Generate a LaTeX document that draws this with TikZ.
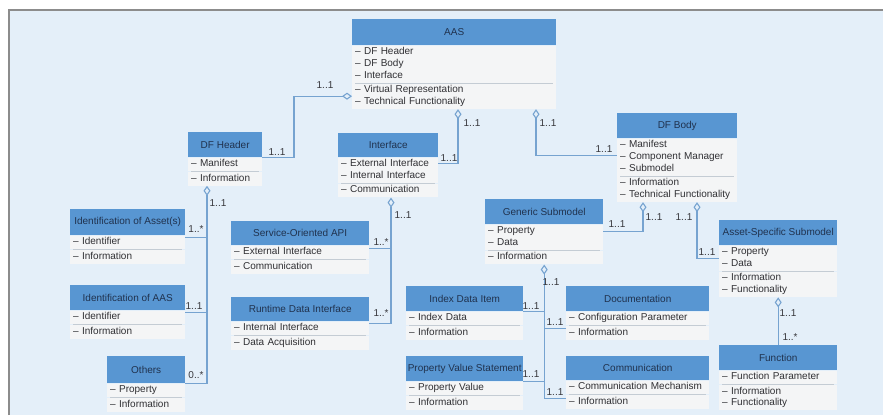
\documentclass[tikz,border=0pt]{standalone}
\usepackage{fontspec}
\setmainfont{Liberation Sans}
\usetikzlibrary{arrows.meta,calc}

\definecolor{panelbg}{RGB}{228,239,249}
\definecolor{panelline}{RGB}{140,140,140}
\definecolor{hdrblue}{RGB}{88,150,210}
\definecolor{hdrtext}{RGB}{32,50,78}
\definecolor{bodyfill}{RGB}{244,245,246}
\definecolor{itemtext}{RGB}{48,48,52}
\definecolor{sepline}{RGB}{196,204,212}
\definecolor{connblue}{RGB}{118,163,208}
\definecolor{multtext}{RGB}{55,55,60}

\tikzset{
  clshead/.style={anchor=north west, fill=hdrblue, inner sep=0pt, text=hdrtext,
    font=\fontsize{10}{11}\selectfont},
  clscomp/.style={anchor=north west, fill=bodyfill, align=left, inner xsep=3pt,
    inner ysep=1pt, text=itemtext, font=\fontsize{10}{11.8}\selectfont},
  clssep/.style={draw=sepline, line width=0.8pt},
  conn/.style={draw=connblue, line width=1.1pt},
  agg/.style={{Diamond[open,length=10pt,width=7pt]}-},
  mult/.style={inner sep=0pt, text=multtext, font=\fontsize{10}{11}\selectfont},
}

% class box: name, left x, top y, width, header height, title, upper and lower compartments
\newcommand\umlcls[8]{%
  \pgfmathsetlengthmacro\clstw{#4-6}%
  \node[clshead, minimum width=#4pt, minimum height=#5pt] (#1) at (#2,#3) {#6};
  \node[clscomp, text width=\clstw] (#1-a) at (#1.south west) {\strut#7\strut};
  \node[clscomp, text width=\clstw] (#1-b) at (#1-a.south west) {\strut#8\strut};
  \draw[clssep] ($(#1-b.north west)+(3,0)$) -- ($(#1-b.north east)+(-3,0)$);
}

\begin{document}
\begin{tikzpicture}[x=1pt, y=-1pt]
\useasboundingbox (0,0) rectangle (883,415);
\fill[white] (0,0) rectangle (883,415);
\fill[panelbg] (9,10) rectangle (883,415);
\draw[panelline, line width=1.2pt] (9,415) -- (9,10) -- (883,10);

% classes
\umlcls{aas}{352}{19}{204}{26}{AAS}{– DF Header\\– DF Body\\– Interface}{– Virtual Representation\\– Technical Functionality}
\umlcls{dfh}{188}{132}{74}{25}{DF Header}{– Manifest}{– Information}
\umlcls{ifc}{338}{133}{100}{24}{Interface}{– External Interface\\– Internal Interface}{– Communication}
\umlcls{dfb}{617}{113}{120}{25}{DF Body}{– Manifest\\– Component Manager\\– Submodel}{– Information\\– Technical Functionality}
\umlcls{gsm}{485}{199}{118}{25}{Generic Submodel}{– Property\\– Data}{– Information}
\umlcls{asm}{719}{220}{118}{25}{Asset-Specific Submodel}{– Property\\– Data}{– Information\\– Functionality}
\umlcls{fun}{719}{345}{118}{25}{Function}{– Function Parameter}{– Information\\– Functionality}
\umlcls{doc}{566}{286}{143}{25}{Documentation}{– Configuration Parameter}{– Information}
\umlcls{com}{566}{356}{143}{24}{Communication}{– Communication Mechanism}{– Information}
\umlcls{idx}{406}{286}{117}{25}{Index Data Item}{– Index Data}{– Information}
\umlcls{pvs}{406}{356}{117}{25}{Property Value Statement}{– Property Value}{– Information}
\umlcls{ida}{70}{209}{115}{26}{Identification of Asset(s)}{– Identifier}{– Information}
\umlcls{idaas}{70}{285}{115}{25}{Identification of AAS}{– Identifier}{– Information}
\umlcls{oth}{107}{356}{78}{27}{Others}{– Property}{– Information}
\umlcls{soa}{231}{221}{138}{24}{Service-Oriented API}{– External Interface}{– Communication}
\umlcls{rdi}{231}{297}{138}{24}{Runtime Data Interface}{– Internal Interface}{– Data Acquisition}

% AAS aggregations
\draw[conn, agg] (aas-b.west) -- ++(-58,0) |- (dfh.south east);
\draw[conn, agg] ($(aas-b.south west)+(106,0)$) |- ($(ifc-a.north east)+(0,6)$);
\draw[conn, agg] ($(aas-b.south west)+(184,0)$) |- ($(dfb-a.north west)+(0,17)$);

% DF Body aggregations
\draw[conn, agg] ($(dfb-b.south west)+(26,0)$) |- ($(gsm-a.north east)+(0,7)$);
\draw[conn, agg] ($(dfb-b.south west)+(80,0)$) |- ($(asm-a.north west)+(0,13)$);
\draw[conn, agg] (asm-b.south) -- (fun.north);

% Generic Submodel tree
\coordinate (comin) at ($(com-b.north west)+(0,4)$);
\coordinate (docin) at ($(doc-b.north west)+(0,3)$);
\draw[conn, agg] (gsm-b.south) |- (comin);
\draw[conn] (idx.south east) -- (idx.south east -| gsm-b.south);
\draw[conn] (docin) -- (docin -| gsm-b.south);
\draw[conn] (pvs.south east) -- (pvs.south east -| gsm-b.south);

% DF Header tree
\coordinate (dfhagg) at ($(dfh-b.south west)+(19,0)$);
\coordinate (idain) at ($(ida.south east)+(0,2)$);
\coordinate (idaasin) at ($(idaas.south east)+(0,2)$);
\draw[conn, agg] (dfhagg) |- (oth.south east);
\draw[conn] (idain) -- (idain -| dfhagg);
\draw[conn] (idaasin) -- (idaasin -| dfhagg);

% Interface tree
\coordinate (ifcagg) at ($(ifc-b.south west)+(53,0)$);
\coordinate (soain) at ($(soa.south east)+(0,3)$);
\coordinate (rdiin) at ($(rdi.south east)+(0,2)$);
\draw[conn, agg] (ifcagg) |- (rdiin);
\draw[conn] (soain) -- (soain -| ifcagg);

% multiplicities
\node[mult] (m1) at (325,85) {1..1};
\node[mult] (m2) at (277,152) {1..1};
\node[mult] (m3) at (472,123) {1..1};
\node[mult] (m4) at (449,158) {1..1};
\node[mult] (m5) at (548,123) {1..1};
\node[mult] (m6) at (604,149) {1..1};
\node[mult] (m7) at (654,217) {1..1};
\node[mult] (m8) at (617,224) {1..1};
\node[mult] (m9) at (684,217) {1..1};
\node[mult] (m10) at (707,252) {1..1};
\node[mult] (m11) at (788,313) {1..1};
\node[mult] (m12) at (790,337) {1..*};
\node[mult] (m13) at (551,282) {1..1};
\node[mult] (m14) at (531,306) {1..1};
\node[mult] (m15) at (555,322) {1..1};
\node[mult] (m16) at (531,374) {1..1};
\node[mult] (m17) at (555,392) {1..1};
\node[mult] (m18) at (218,203) {1..1};
\node[mult] (m19) at (196,229) {1..*};
\node[mult] (m20) at (194,306) {1..1};
\node[mult] (m21) at (196,375) {0..*};
\node[mult] (m22) at (403,215) {1..1};
\node[mult] (m23) at (381,242) {1..*};
\node[mult] (m24) at (381,313) {1..*};
\end{tikzpicture}
\end{document}
